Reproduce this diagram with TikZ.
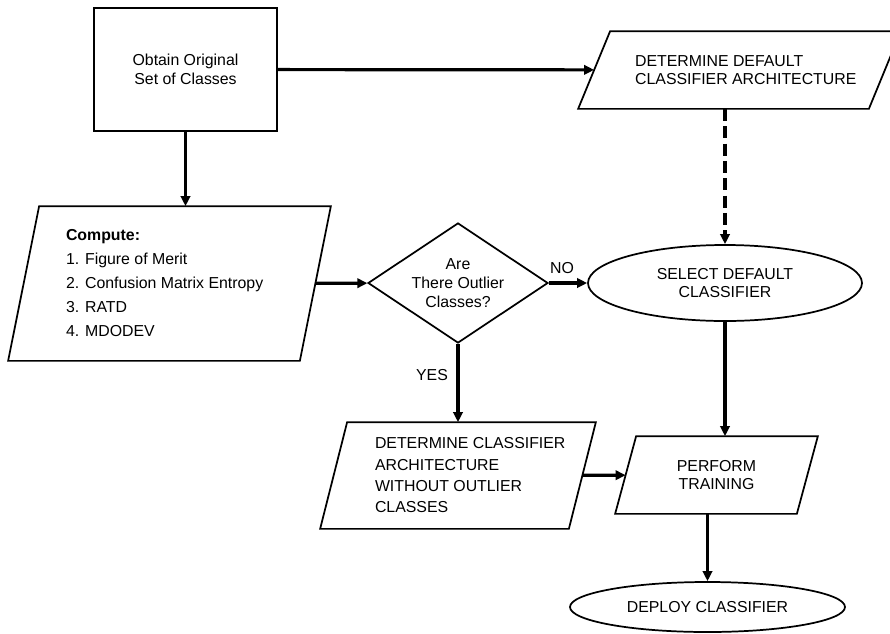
\documentclass[tikz,border=0pt]{standalone}
\usepackage{fontspec}
\setmainfont{Liberation Sans}
\usetikzlibrary{shapes.geometric,arrows.meta}

% slanted outline round a (plain) node: #1 node, #2 half of the slant
\newcommand\drawslant[2]{%
  \draw[outline] ([xshift=#2]#1.north west) -- ([xshift=#2]#1.north east)
    -- ([xshift=-#2]#1.south east) -- ([xshift=-#2]#1.south west) -- cycle;}

\tikzset{
  outline/.style={line width=1.3pt},
  chart/.style={outline, inner sep=3pt, font=\fontsize{11.9}{14}\selectfont},
  procbox/.style={chart, draw, rectangle, align=center, minimum width=137.25pt, minimum height=92.25pt},
  iobox/.style={chart, rectangle, align=left},
  decision/.style={chart, draw, diamond, aspect=1.5, inner sep=0pt, align=center,
    minimum width=135pt, minimum height=90pt},
  terminal/.style={chart, draw, ellipse, align=center},
  flow/.style={line width=2.4pt, -{Triangle[length=7.5pt,width=7pt]}},
  branch/.style={font=\fontsize{11.9}{14}\selectfont},
}

\begin{document}
\begin{tikzpicture}[x=0.75pt, y=-0.75pt]
  \useasboundingbox (0,0) rectangle (890,633);
  % Start: original classes
  \node[procbox] (obtain) at (185.5,69.5) {Obtain Original\\Set of Classes};
  % Default architecture
  \node[iobox, minimum width=216.75pt, minimum height=57pt] (defarch) at (739.5,70)
        {\parbox{176pt}{\leftskip=9.75pt DETERMINE DEFAULT\par CLASSIFIER ARCHITECTURE}};
  \drawslant{defarch}{12pt}
  % Metrics
  \node[iobox, minimum width=217.5pt, minimum height=114.75pt, font=\fontsize{11.9}{18}\selectfont]
        (compute) at (169.5,283.5)
        {\parbox{155.25pt}{\textbf{Compute:}\par 1. Figure of Merit\par 2. Confusion Matrix Entropy\par 3. RATD\par 4. MDODEV}};
  \drawslant{compute}{11.625pt}
  % Decision
  \node[decision] (outlier) at (458,283) {Are\\There Outlier\\Classes?};
  \node[terminal, minimum width=205.5pt, minimum height=57pt] (seldef) at (725,283) {SELECT DEFAULT\\CLASSIFIER};
  % Architecture without outliers
  \node[iobox, minimum width=185.25pt, minimum height=78.75pt, font=\fontsize{11.9}{16}\selectfont]
        (detarch) at (458,475.5)
        {\parbox{163.5pt}{\leftskip=19.5pt DETERMINE CLASSIFIER\par ARCHITECTURE\par WITHOUT OUTLIER\par CLASSES}};
  \drawslant{detarch}{10.125pt}
  % Training and deployment
  \node[iobox, minimum width=135pt, minimum height=57pt, align=center] (perform) at (716.5,475) {PERFORM\\TRAINING};
  \drawslant{perform}{7.875pt}
  \node[terminal, minimum width=206.25pt, minimum height=37.5pt] (deploy) at (707.5,607) {DEPLOY CLASSIFIER};
  % Branch labels
  \node[branch] (no) at (562,268) {NO};
  \node[branch] (yes) at (432,375) {YES};
  % Connectors
  \draw[flow] (obtain) -- (defarch);
  \draw[flow] (obtain.south) -- (obtain.south |- compute.north);
  \draw[flow, dash pattern=on 9pt off 4pt] (seldef.north |- defarch.south) -- (seldef.north);
  \draw[flow] (compute) -- (outlier);
  \draw[flow] (outlier) -- (seldef);
  \draw[flow] (outlier.south) -- (outlier.south |- detarch.north);
  \draw[flow] (detarch) -- (perform);
  \draw[flow] (seldef.south) -- (seldef.south |- perform.north);
  \draw[flow] (deploy.north |- perform.south) -- (deploy.north);
\end{tikzpicture}
\end{document}
